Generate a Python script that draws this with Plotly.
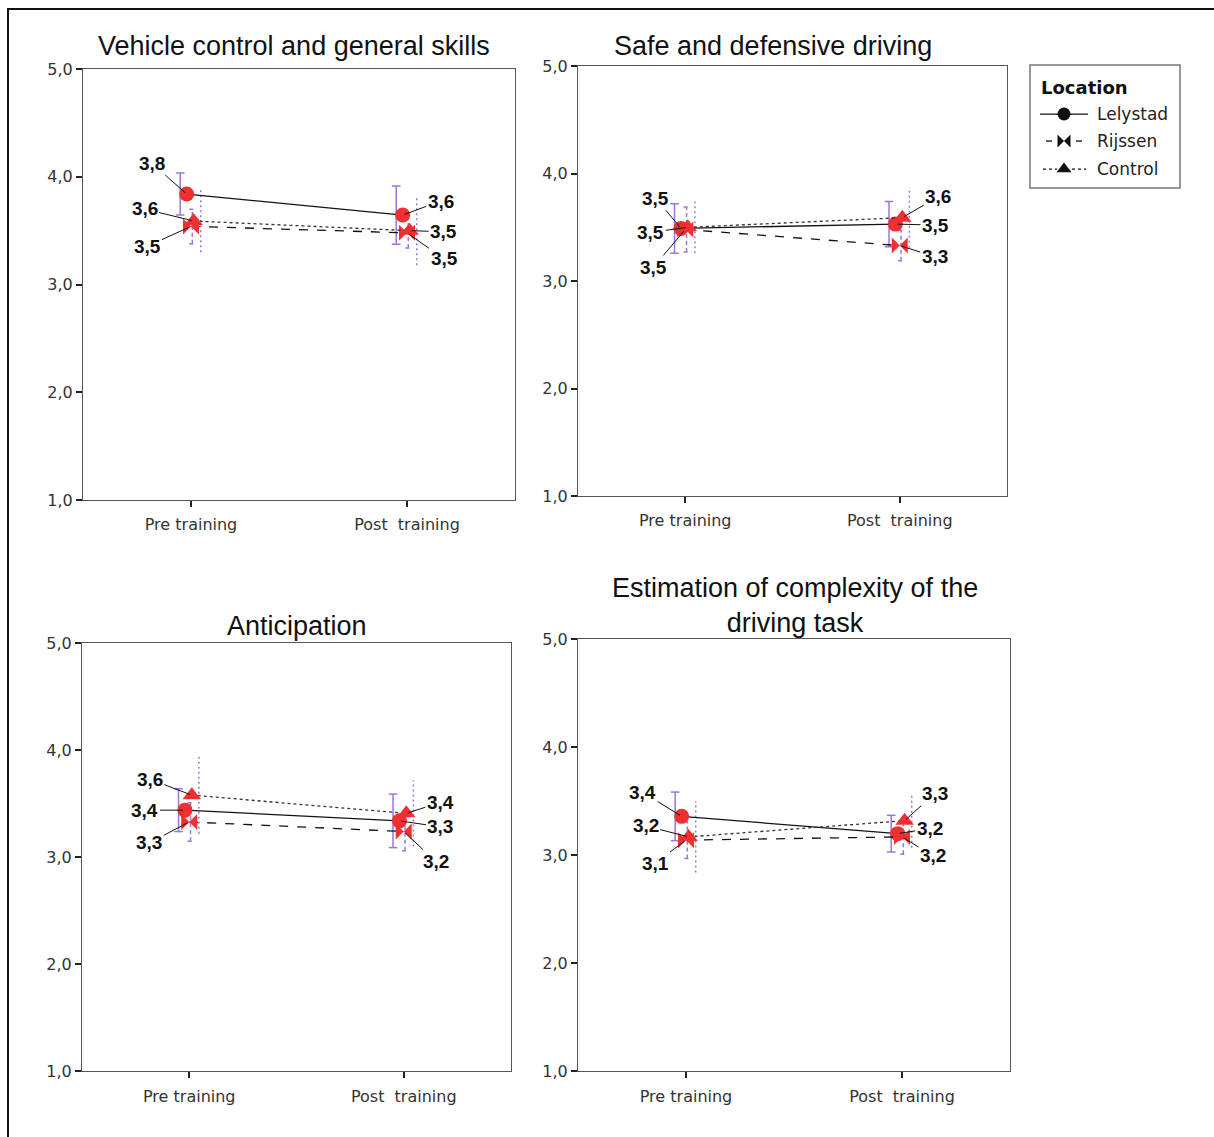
import plotly.graph_objects as go

# ---------------- data ----------------
panel_titles = ["Vehicle control and general skills", "Safe and defensive driving",
                "Anticipation", "Estimation of complexity of the<br>driving task"]
categories = ["Pre training", "Post  training"]
y_ticks = [1.0, 2.0, 3.0, 4.0, 5.0]
y_tick_labels = ["1,0", "2,0", "3,0", "4,0", "5,0"]
series_names = ["Lelystad", "Rijssen", "Control"]

# means [pre, post] per panel
lelystad_means = [[3.84, 3.645], [3.49, 3.53], [3.44, 3.34], [3.36, 3.20]]
rijssen_means = [[3.54, 3.48], [3.48, 3.33], [3.33, 3.24], [3.14, 3.17]]
control_means = [[3.59, 3.50], [3.50, 3.59], [3.58, 3.41], [3.17, 3.32]]

# error-bar half widths [pre, post] per panel
lelystad_err = [[0.195, 0.27], [0.23, 0.21], [0.20, 0.25], [0.225, 0.17]]
rijssen_err = [[0.16, 0.14], [0.21, 0.14], [0.18, 0.18], [0.17, 0.16]]
control_err = [[0.29, 0.32], [0.24, 0.28], [0.36, 0.31], [0.33, 0.25]]

# ---------------- layout constants ----------------
W, H = 1214, 1137


def fx(px):
    return px / W


def fy(py):
    # vertical placement (page pixel -> paper fraction), compensating the page offset
    return 1 - ((py - 8) / 0.983) / H


# panel boxes in pixels: (left, right, top, bottom)
boxes = [(83, 515, 68, 499), (578, 1007, 65, 495), (82, 511, 642, 1070), (578, 1010, 638, 1070)]
title_pos = [(294, 45), (773, 45), (297, 625), (795, 604)]

RED = "#f03030"
PURPLE = "#9d74dc"

series_style = {
    "Lelystad": dict(symbol="circle", size=15, dash="solid", mx=-0.02, ex=-0.05, cap=0.02, lc="#111"),
    "Rijssen": dict(symbol="bowtie", size=16, dash="dash", mx=0.0, ex=0.006, cap=0.014, lc="#111"),
    "Control": dict(symbol="triangle-up", size=16, dash="dot", mx=0.012, ex=0.045, cap=0.0, lc="#333"),
}
bar_dash = {"Lelystad": "solid", "Rijssen": "4px,3px", "Control": "2px,3px"}

# label text offsets (ax, ay) in px, per panel per series per [pre, post]
label_offsets = [
    {"Lelystad": [(-35, -31), (38, -14)], "Rijssen": [(-44, 20), (37, 26)], "Control": [(-49, -12), (34, 1)]},
    {"Lelystad": [(-25, -30), (40, 1)], "Rijssen": [(-32, 38), (35, 11)], "Control": [(-37, 5), (36, -21)]},
    {"Lelystad": [(-40, 0), (41, 6)], "Rijssen": [(-40, 21), (32, 30)], "Control": [(-42, -16), (34, -11)]},
    {"Lelystad": [(-39, -24), (32, -5)], "Rijssen": [(-31, 23), (31, 19)], "Control": [(-43, -11), (30, -27)]},
]

means = {"Lelystad": lelystad_means, "Rijssen": rijssen_means, "Control": control_means}
errs = {"Lelystad": lelystad_err, "Rijssen": rijssen_err, "Control": control_err}

fig = go.Figure()
annotations = []
layout_axes = {}

for p in range(4):
    l, r, t, b = boxes[p]
    xs = "" if p == 0 else str(p + 1)
    xa, ya = "x" + xs, "y" + xs
    layout_axes["xaxis" + xs] = dict(
        domain=[fx(l), fx(r)], anchor=ya, range=[-0.5, 1.5],
        tickmode="array", tickvals=[0, 1], ticktext=categories,
        showgrid=False, zeroline=False, showline=True, linecolor="#555", linewidth=1, mirror=True,
        ticks="outside", ticklen=6, tickwidth=2, tickcolor="#222", ticklabelstandoff=4,
        tickfont=dict(family="DejaVu Sans", size=16, color="#333"),
    )
    layout_axes["yaxis" + xs] = dict(
        domain=[fy(b), fy(t)], anchor=xa, range=[1, 5],
        tickmode="array", tickvals=y_ticks, ticktext=y_tick_labels,
        showgrid=False, zeroline=False, showline=True, linecolor="#555", linewidth=1, mirror=True,
        ticks="outside", ticklen=6, tickwidth=2, tickcolor="#222",
        tickfont=dict(family="DejaVu Sans", size=16, color="#333"),
    )
    for s in series_names:
        st = series_style[s]
        m = means[s][p]
        e = errs[s][p]
        ex, ey = [], []
        for i in range(2):
            xc = i + st["ex"]
            ex += [xc, xc, None]
            ey += [m[i] - e[i], m[i] + e[i], None]
            if st["cap"] > 0:
                for yy in (m[i] - e[i], m[i] + e[i]):
                    ex += [xc - st["cap"], xc + st["cap"], None]
                    ey += [yy, yy, None]
        fig.add_trace(go.Scatter(x=ex, y=ey, xaxis=xa, yaxis=ya, mode="lines",
                                 line=dict(color=PURPLE, width=1.5, dash=bar_dash[s]),
                                 showlegend=False, hoverinfo="skip"))
    for s in series_names:
        st = series_style[s]
        m = means[s][p]
        xm = [i + st["mx"] for i in range(2)]
        fig.add_trace(go.Scatter(x=xm, y=m, xaxis=xa, yaxis=ya, mode="lines+markers",
                                 line=dict(color=st["lc"], width=1.3, dash=st["dash"]),
                                 marker=dict(symbol=st["symbol"], size=st["size"], color=RED,
                                             line=dict(width=0)),
                                 showlegend=False, name=s))
        for i in range(2):
            axo, ayo = label_offsets[p][s][i]
            annotations.append(dict(
                x=xm[i], y=m[i], xref=xa, yref=ya, ax=axo, ay=ayo,
                text="<b>" + f"{m[i]:.1f}".replace(".", ",") + "</b>",
                showarrow=True, arrowhead=0, arrowwidth=1, arrowcolor="#111", standoff=2,
                font=dict(family="Liberation Sans, Arial", size=19, color="#111"),
            ))
    tx, ty = title_pos[p]
    annotations.append(dict(x=fx(tx), y=fy(ty), xref="paper", yref="paper",
                            text=panel_titles[p], showarrow=False,
                            font=dict(family="Liberation Sans, Arial", size=27, color="#111"),
                            xanchor="center", yanchor="middle"))

# ---------------- legend (drawn in its own small axis) ----------------
LX0, LX1, LY0, LY1 = 1030, 1180, 64, 187
layout_axes["xaxis5"] = dict(domain=[fx(LX0), fx(LX1)], anchor="y5", range=[0, LX1 - LX0],
                             visible=False, fixedrange=True)
layout_axes["yaxis5"] = dict(domain=[fy(LY1), fy(LY0)], anchor="x5", range=[LY1 - LY0, 0],
                             visible=False, fixedrange=True)
legend_rows = [49, 76, 104]
legend_line_segments = {
    "Lelystad": [(10, 58)],
    "Rijssen": [(16, 22), (46, 52)],
    "Control": [(13, 27), (42, 56)],
}
for s, row in zip(series_names, legend_rows):
    st = series_style[s]
    for a, bb in legend_line_segments[s]:
        fig.add_trace(go.Scatter(x=[a, bb], y=[row, row], xaxis="x5", yaxis="y5", mode="lines",
                                 line=dict(color="#111", width=1.3, dash=st["dash"] if s == "Control" else "solid"),
                                 showlegend=False, hoverinfo="skip"))
    fig.add_trace(go.Scatter(x=[34], y=[row], xaxis="x5", yaxis="y5", mode="markers", name=s,
                             marker=dict(symbol=st["symbol"], size=13, color="#111"),
                             showlegend=False, hoverinfo="skip"))
    annotations.append(dict(x=65, y=row, xref="x5", yref="y5", text=s, showarrow=False,
                            xanchor="left", yanchor="middle",
                            font=dict(family="DejaVu Sans", size=17, color="#222")))
annotations.append(dict(x=9, y=22, xref="x5", yref="y5", text="<b>Location</b>", showarrow=False,
                        xanchor="left", yanchor="middle",
                        font=dict(family="DejaVu Sans", size=18, color="#111")))

fig.update_layout(
    width=W, height=H, margin=dict(l=0, r=0, t=0, b=0),
    plot_bgcolor="white", paper_bgcolor="white",
    showlegend=False,
    annotations=annotations,
    shapes=[
        dict(type="path", xref="paper", yref="paper",
             path=f"M {fx(8)} -0.05 L {fx(8)} {fy(8)} L 1.01 {fy(8)}",
             line=dict(color="#111", width=2)),
        dict(type="rect", xref="paper", yref="paper",
             x0=fx(LX0), x1=fx(LX1), y0=fy(LY1), y1=fy(LY0),
             line=dict(color="#777", width=1.5)),
    ],
    **layout_axes,
)

fig.write_html("out.html")
